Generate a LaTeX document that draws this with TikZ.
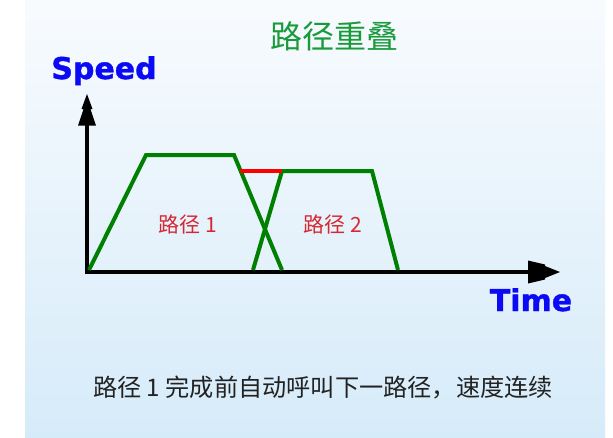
\documentclass[tikz,border=0pt]{standalone}
\usepackage{fontspec}
\newfontfamily\cjk{Noto Sans CJK SC}
\newfontfamily\axfont{DejaVu Sans Bold}[FakeBold=1.2]
\definecolor{bgtop}{RGB}{248,251,254}
\definecolor{bgbot}{RGB}{214,235,249}
\definecolor{titlegreen}{RGB}{25,155,60}
\definecolor{pathgreen}{RGB}{0,128,0}
\definecolor{labelred}{RGB}{215,40,50}
\definecolor{axisblue}{RGB}{10,10,245}
\definecolor{captiongray}{RGB}{34,34,34}
\begin{document}
\begin{tikzpicture}[x=1pt,y=-1pt,
  axisline/.style={line width=4pt,black},
  arrowhd/.style={fill=black,draw=none},
  pathline/.style={line width=4pt,pathgreen},
  overlapline/.style={line width=4pt,red},
  axislabel/.style={font=\fontsize{30}{30}\selectfont\axfont, text=axisblue, inner sep=0pt, anchor=base},
  pathlabel/.style={font=\fontsize{21}{21}\selectfont\cjk, text=labelred, inner sep=0pt},
]
\useasboundingbox (0,0) rectangle (613,437);
\fill[white] (0,0) rectangle (613,437);
\shade[top color=bgtop, bottom color=bgbot] (25,0) rectangle (605,437);

% title
\node[font=\fontsize{32}{32}\selectfont\cjk, text=titlegreen, inner sep=0pt] (title) at (334,36) {路径重叠};

% axes
\coordinate (ytop) at (87,124);
\coordinate (xend) at (529,272);
\draw[axisline] (87,274) -- (ytop);
\draw[axisline] (85,272) -- (xend);
% vertical arrowhead
\fill[arrowhd] (87,94) -- (92.5,109) -- (90.5,109) -- (96,125.5) -- (78,125.5) -- (83.5,109) -- (81.5,109) -- cycle;
% horizontal arrowhead
\fill[arrowhd] (560,272) -- (545,266) -- (545,264.5) -- (528,260.5) -- (528,283.5) -- (545,279.5) -- (545,278) -- cycle;

\node[axislabel] (speed) at (104,79) {Speed};
\node[axislabel] (time) at (531,311) {Time};

% path 1
\coordinate (p1a) at (89,270);
\coordinate (p1b) at (146,155);
\coordinate (p1c) at (234,155);
\coordinate (p1d) at (282,270);
% path 2
\coordinate (p2a) at (253,270);
\coordinate (p2b) at (282,171);
\coordinate (p2c) at (372,171);
\coordinate (p2d) at (398,270);
\coordinate (r1) at (240,171);

\draw[pathline] (p1a) -- (p1b) -- (p1c) -- (p1d);
\draw[pathline] (p2a) -- (p2b) -- (p2c) -- (p2d);
\draw[overlapline] (r1) -- (p2b);

\node[pathlabel] (lab1) at (188,225) {路径 1};
\node[pathlabel] (lab2) at (333,225) {路径 2};

\node[font=\fontsize{24.2}{24.2}\selectfont\cjk, text=captiongray, inner sep=0pt] (caption) at (323,388) {路径 1 完成前自动呼叫下一路径，速度连续};
\end{tikzpicture}
\end{document}
